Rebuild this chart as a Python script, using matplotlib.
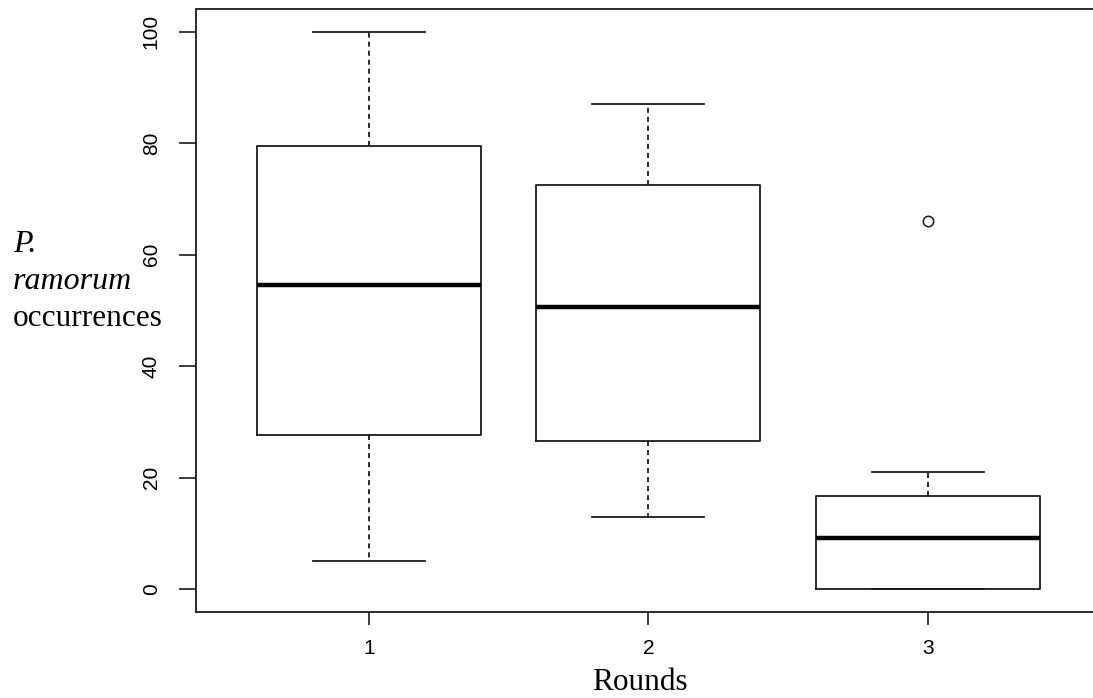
import matplotlib
matplotlib.use("Agg")
import matplotlib.pyplot as plt

rounds = ["1", "2", "3"]
whislo = [5, 13, 0]
q1 = [27.6, 26.6, 0]
med = [54.6, 50.6, 9.1]
q3 = [79.6, 72.6, 16.7]
whishi = [100, 87, 21.1]
fliers = [[], [], [66]]
yticks = [0, 20, 40, 60, 80, 100]

W, H = 1093, 698
fig = plt.figure(figsize=(W / 100, H / 100), dpi=100)
ax = fig.add_axes([195.5 / W, (H - 611.5) / H, (1101 - 195.5) / W, (611.5 - 9.5) / H])

stats = []
for i in range(3):
    stats.append(dict(label=rounds[i], whislo=whislo[i], q1=q1[i], med=med[i],
                      q3=q3[i], whishi=whishi[i], fliers=fliers[i]))

col = "#1a1a1a"
ax.bxp(stats, positions=[1, 2, 3], widths=0.8, capwidths=0.4, showfliers=True,
       boxprops=dict(color=col, linewidth=1.3),
       medianprops=dict(color="black", linewidth=3.2, solid_capstyle="butt"),
       whiskerprops=dict(color=col, linewidth=1.3, linestyle=(0, (2.8, 2.2))),
       capprops=dict(color=col, linewidth=1.3),
       flierprops=dict(marker="o", markersize=7.5, markerfacecolor="none",
                       markeredgecolor=col, markeredgewidth=1.1))

ax.set_xlim(0.38, 3.62)
ax.set_ylim(-4, 104)
ax.set_yticks(yticks)
ax.set_yticklabels([str(v) for v in yticks], rotation=90, va="center",
                   family="Liberation Sans", fontsize=15)
ax.set_xticks([1, 2, 3])
ax.set_xticklabels(rounds, family="Liberation Sans", fontsize=15)
ax.tick_params(axis="y", length=12, width=1.2, pad=13, color=col)
ax.tick_params(axis="x", length=9, width=1.2, pad=11, color=col)
for s in ax.spines.values():
    s.set_linewidth(1.3)
    s.set_color(col)

fig.text(640 / W, 1 - 690 / H, "Rounds", family="Liberation Serif", fontsize=22.5,
         ha="center", va="baseline")
fig.text(13 / W, 1 - 252 / H, "P.", family="Liberation Serif", style="italic",
         fontsize=23, ha="left", va="baseline")
fig.text(13 / W, 1 - 289 / H, "ramorum", family="Liberation Serif", style="italic",
         fontsize=23, ha="left", va="baseline")
fig.text(13 / W, 1 - 326 / H, "occurrences", family="Liberation Serif",
         fontsize=22.5, ha="left", va="baseline")

fig.savefig("out.png", dpi=100)
